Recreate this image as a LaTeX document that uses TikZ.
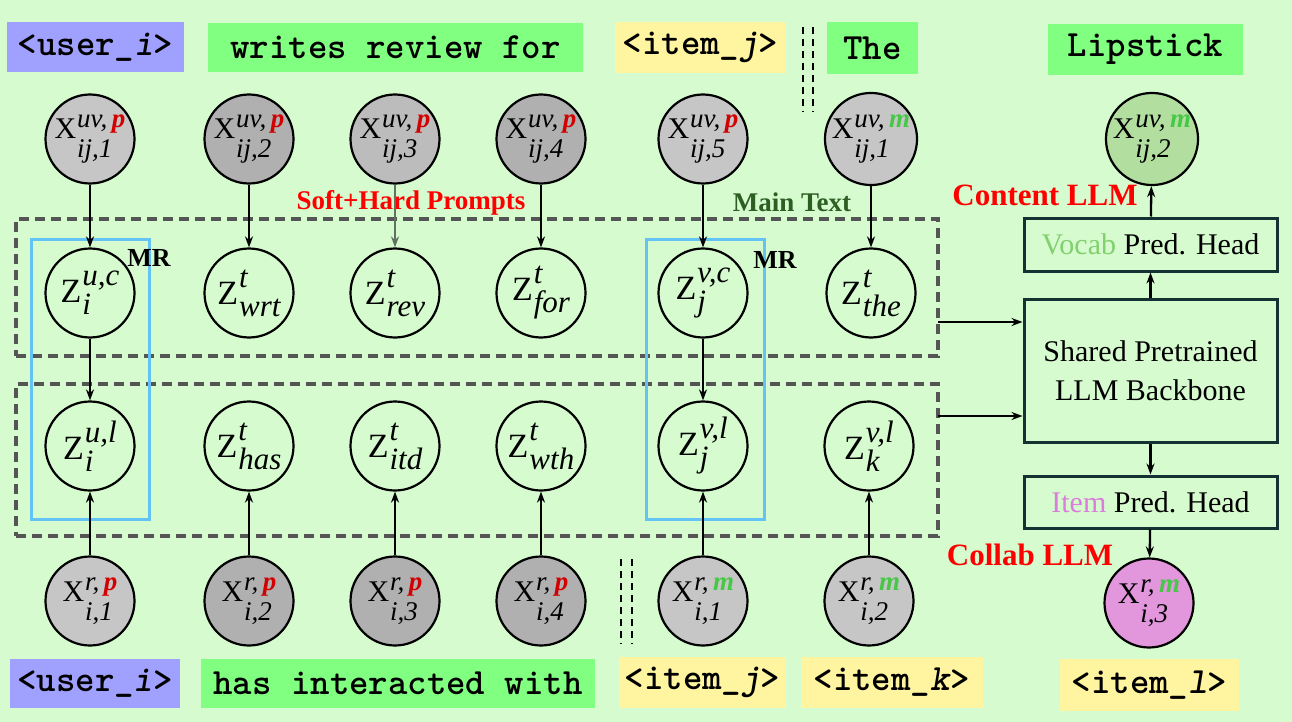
\documentclass[tikz,border=0pt]{standalone}
\usepackage{fontspec}
\setmainfont{Liberation Serif}
\usetikzlibrary{arrows.meta}
\definecolor{bg}{RGB}{214,251,207}
\definecolor{lav}{RGB}{160,160,255}
\definecolor{lgreen}{RGB}{128,255,128}
\definecolor{lyel}{RGB}{255,244,160}
\definecolor{pc}{RGB}{210,0,0}
\definecolor{mc}{RGB}{70,200,70}
\definecolor{gA}{RGB}{198,198,198}
\definecolor{gB}{RGB}{176,176,176}
\definecolor{gC}{RGB}{188,188,188}
\definecolor{vgreen}{RGB}{178,222,160}
\definecolor{pink}{RGB}{226,150,220}
\definecolor{mrblue}{RGB}{100,195,245}
\definecolor{boxline}{RGB}{20,50,50}
\definecolor{dgreen}{RGB}{45,95,35}
\definecolor{vocab}{RGB}{130,208,110}
\definecolor{itemc}{RGB}{220,125,220}
\definecolor{dashgray}{RGB}{85,85,85}
\definecolor{softarr}{RGB}{95,115,95}
\newlength{\wa}\newlength{\wb}
% #1 script font, #2 base, #3 sup, #4 sub, #5 raise, #6 lower
\newcommand{\SSgen}[6]{%
  \settowidth{\wa}{#1#3}\settowidth{\wb}{#1#4}%
  \ifdim\wb>\wa \setlength{\wa}{\wb}\fi
  #2\kern1pt\raisebox{#5}{\makebox[0pt][l]{#1#3}}\raisebox{-#6}{\makebox[\wa][l]{#1#4}}}
\newcommand{\scrX}{\fontsize{27}{27}\selectfont\itshape}
\newcommand{\scrZ}{\fontsize{31}{31}\selectfont\itshape}
\newcommand{\XX}[2]{\SSgen{\scrX}{X}{#1}{#2}{11pt}{19pt}}
\newcommand{\ZZ}[2]{{\fontsize{34}{36}\selectfont\SSgen{\scrZ}{Z}{#1}{#2}{17pt}{12pt}}}
\newcommand{\pp}{\,\textcolor{pc}{\bfseries p}}
\newcommand{\mm}{\,\textcolor{mc}{\bfseries m}}
\begin{document}
\begin{tikzpicture}[x=1pt,y=-1pt,
  vnode/.style={circle,draw=black,line width=2.2pt,minimum size=89pt,inner sep=0pt,
    font=\fontsize{30}{34}\selectfont},
  lab/.style={inner sep=0pt,font=\fontsize{37}{40}\selectfont\ttfamily\bfseries},
  arr/.style={-{Stealth[length=11pt,width=8pt]},line width=2.3pt},
  dashbox/.style={draw=dashgray,dash pattern=on 10pt off 6pt,line width=3.2pt,inner sep=0pt},
  mrbox/.style={draw=mrblue,line width=3pt,inner sep=0pt},
  headbox/.style={draw=boxline,line width=3pt,inner sep=0pt,font=\fontsize{30}{36}\selectfont},
  redlab/.style={text=red,font=\fontsize{31}{34}\selectfont\bfseries,inner sep=0pt},
  smalllab/.style={font=\fontsize{26}{30}\selectfont\bfseries,inner sep=0pt},
  dline/.style={line width=1.8pt,dash pattern=on 7pt off 5pt}
]
\useasboundingbox (0,0) rectangle (1292,722);
\fill[bg] (0,0) rectangle (1292,722);

% top labels
\node[lab,fill=lav,minimum width=177pt,minimum height=50pt] (tu) at (95.5,47) {<user\_\textit{i}>};
\node[lab,fill=lgreen,minimum width=375pt,minimum height=49pt] (tw) at (395.5,47.5) {writes review for};
\node[lab,fill=lyel,minimum width=171pt,minimum height=51pt] (tij) at (700.5,47.5) {<item\_\textit{j}>};
\node[lab,fill=lgreen,minimum width=91pt,minimum height=52pt] (tthe) at (872.5,48) {The};
\node[lab,fill=lgreen,minimum width=195pt,minimum height=51pt] (tlip) at (1145.5,49.5) {Lipstick};

% bottom labels
\node[lab,fill=lav,minimum width=170pt,minimum height=49pt] (bu) at (95,683.5) {<user\_\textit{i}>};
\node[lab,fill=lgreen,minimum width=394pt,minimum height=49pt] (bh) at (398,683.5) {has interacted with};
\node[lab,fill=lyel,minimum width=167pt,minimum height=51pt] (bij) at (702.5,682.5) {<item\_\textit{j}>};
\node[lab,fill=lyel,minimum width=182pt,minimum height=51pt] (bik) at (892,682.5) {<item\_\textit{k}>};
\node[lab,fill=lyel,minimum width=179pt,minimum height=52pt] (bil) at (1149.5,685) {<item\_\textit{l}>};

% dashed separators
\coordinate (s1a) at (803,27); \coordinate (s1b) at (803,112);
\coordinate (s2a) at (813,27); \coordinate (s2b) at (813,112);
\draw[dline] (s1a) -- (s1b);
\draw[dline] (s2a) -- (s2b);
\coordinate (s3a) at (621,559); \coordinate (s3b) at (621,644);
\coordinate (s4a) at (632,559); \coordinate (s4b) at (632,644);
\draw[dline] (s3a) -- (s3b);
\draw[dline] (s4a) -- (s4b);

% dashed group boxes
\node[dashbox,minimum width=922pt,minimum height=137pt] (topbox) at (477,287.5) {};
\node[dashbox,minimum width=922pt,minimum height=152pt] (botbox) at (477,460) {};

% MR boxes
\node[mrbox,minimum width=118pt,minimum height=280pt] (mr1) at (90,379) {};
\node[mrbox,minimum width=118pt,minimum height=280pt] (mr2) at (705,379) {};
\node[smalllab] (mrl1) at (149,258) {MR};
\node[smalllab] (mrl2) at (775,260) {MR};

% top X nodes
\node[vnode,fill=gA] (x1) at (90,139) {\XX{uv,\pp}{ij,1}};
\node[vnode,fill=gB] (x2) at (249,139) {\XX{uv,\pp}{ij,2}};
\node[vnode,fill=gC] (x3) at (395,139) {\XX{uv,\pp}{ij,3}};
\node[vnode,fill=gB] (x4) at (541,139) {\XX{uv,\pp}{ij,4}};
\node[vnode,fill=gA] (x5) at (703,139) {\XX{uv,\pp}{ij,5}};
\node[vnode,fill=gA] (x6) at (871,139) {\XX{uv,\mm}{ij,1}};
\node[vnode,fill=vgreen] (xo) at (1152,139) {\XX{uv,\mm}{ij,2}};

% Z row 1
\node[vnode] (z1) at (90,293) {\ZZ{u,c}{i}};
\node[vnode] (z2) at (249,293) {\ZZ{t}{wrt}};
\node[vnode] (z3) at (395,293) {\ZZ{t}{rev}};
\node[vnode] (z4) at (541,293) {\ZZ{t}{for}};
\node[vnode] (z5) at (703,293) {\ZZ{v,c}{j}};
\node[vnode] (z6) at (871,293) {\ZZ{t}{the}};

% Z row 2
\node[vnode] (w1) at (90,446) {\ZZ{u,l}{i}};
\node[vnode] (w2) at (249,446) {\ZZ{t}{has}};
\node[vnode] (w3) at (395,446) {\ZZ{t}{itd}};
\node[vnode] (w4) at (541,446) {\ZZ{t}{wth}};
\node[vnode] (w5) at (703,446) {\ZZ{v,l}{j}};
\node[vnode] (w6) at (869,446) {\ZZ{v,l}{k}};

% bottom X nodes
\node[vnode,fill=gA] (y1) at (90,601) {\XX{r,\pp}{i,1}};
\node[vnode,fill=gB] (y2) at (249,601) {\XX{r,\pp}{i,2}};
\node[vnode,fill=gB] (y3) at (395,601) {\XX{r,\pp}{i,3}};
\node[vnode,fill=gB] (y4) at (541,601) {\XX{r,\pp}{i,4}};
\node[vnode,fill=gA] (y5) at (703,601) {\XX{r,\mm}{i,1}};
\node[vnode,fill=gA] (y6) at (869,601) {\XX{r,\mm}{i,2}};
\node[vnode,fill=pink] (yo) at (1149,603) {\XX{r,\mm}{i,3}};

% right column boxes
\node[headbox,minimum width=253pt,minimum height=53pt] (vocab) at (1150.5,244.5) {\textcolor{vocab}{Vocab} Pred. Head};
\node[headbox,minimum width=253pt,minimum height=143pt,align=center] (shared) at (1150.5,370.5) {Shared Pretrained\\[3pt]LLM Backbone};
\node[headbox,minimum width=253pt,minimum height=52pt] (itemh) at (1150.5,502) {\textcolor{itemc}{Item} Pred. Head};

% texts
\node[text=red,font=\fontsize{27}{30}\selectfont\bfseries,inner sep=0pt] (soft) at (411,203) {Soft+Hard Prompts};
\node[text=dgreen,font=\fontsize{27}{30}\selectfont\bfseries,inner sep=0pt] (main) at (792,202) {Main Text};
\node[redlab] (content) at (1045,195) {Content LLM};
\node[redlab] (collab) at (1030,555) {Collab LLM};

% arrows
\draw[arr] (x1) -- (z1);
\draw[arr] (x2) -- (z2);
\draw[arr,line width=1.8pt,draw=softarr,fill=softarr] (x3) -- (z3);
\draw[arr] (x4) -- (z4);
\draw[arr] (x5) -- (z5);
\draw[arr] (x6) -- (z6);
\draw[arr] (z1) -- (w1);
\draw[arr] (z5) -- (w5);
\draw[arr] (y1) -- (w1);
\draw[arr] (y2) -- (w2);
\draw[arr] (y3) -- (w3);
\draw[arr] (y4) -- (w4);
\draw[arr] (y5) -- (w5);
\draw[arr] (y6) -- (w6);

% to backbone
\coordinate (a1) at (938,322);
\coordinate (a2) at (938,416);
\draw[arr] (a1) -- (a1 -| shared.west);
\draw[arr] (a2) -- (a2 -| shared.west);
\draw[arr] (shared) -- (vocab);
\draw[arr] (vocab) -- (xo);
\draw[arr] (shared) -- (itemh);
\draw[arr] (itemh) -- (yo);
\end{tikzpicture}
\end{document}
